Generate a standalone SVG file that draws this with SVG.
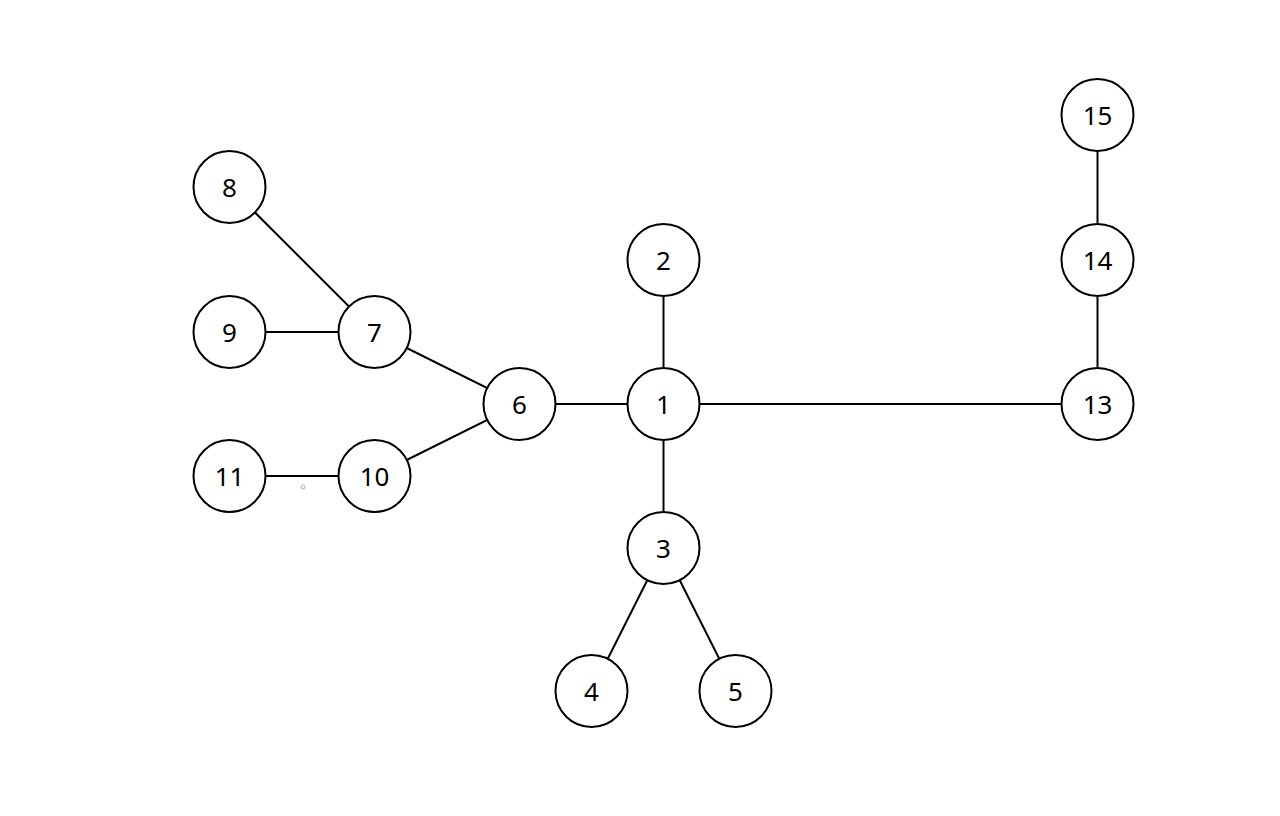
<svg xmlns="http://www.w3.org/2000/svg" width="1280" height="816" viewBox="0 0 1280 816">
<style>
.n circle{fill:#fff;stroke:#000;stroke-width:2}
.n text{font-family:"Noto Sans","Open Sans","Liberation Sans",sans-serif;font-size:26px;fill:#000;text-anchor:middle;dominant-baseline:central}
#edges line{stroke:#000;stroke-width:2}
</style>
<rect width="1280" height="816" fill="#fff"/>
<g id="edges">
<line x1="663.5" y1="404" x2="663.5" y2="260"/>
<line x1="663.5" y1="404" x2="663.5" y2="548"/>
<line x1="663.5" y1="548" x2="591.5" y2="691"/>
<line x1="663.5" y1="548" x2="735.5" y2="691"/>
<line x1="663.5" y1="404" x2="519.5" y2="404"/>
<line x1="663.5" y1="404" x2="1097.5" y2="404"/>
<line x1="519.5" y1="404" x2="374.5" y2="332"/>
<line x1="519.5" y1="404" x2="374.5" y2="476"/>
<line x1="374.5" y1="332" x2="229.5" y2="187"/>
<line x1="374.5" y1="332" x2="229.5" y2="332"/>
<line x1="374.5" y1="476" x2="229.5" y2="476"/>
<line x1="1097.5" y1="404" x2="1097.5" y2="260"/>
<line x1="1097.5" y1="260" x2="1097.5" y2="115"/>
</g>
<circle cx="303" cy="487" r="2" fill="none" stroke="#999" stroke-width="0.8"/>
<g id="node1" class="n"><circle cx="663.5" cy="404" r="36"/><text x="663.5" y="404">1</text></g>
<g id="node2" class="n"><circle cx="663.5" cy="260" r="36"/><text x="663.5" y="260">2</text></g>
<g id="node3" class="n"><circle cx="663.5" cy="548" r="36"/><text x="663.5" y="548">3</text></g>
<g id="node4" class="n"><circle cx="591.5" cy="691" r="36"/><text x="591.5" y="691">4</text></g>
<g id="node5" class="n"><circle cx="735.5" cy="691" r="36"/><text x="735.5" y="691">5</text></g>
<g id="node6" class="n"><circle cx="519.5" cy="404" r="36"/><text x="519.5" y="404">6</text></g>
<g id="node7" class="n"><circle cx="374.5" cy="332" r="36"/><text x="374.5" y="332">7</text></g>
<g id="node8" class="n"><circle cx="229.5" cy="187" r="36"/><text x="229.5" y="187">8</text></g>
<g id="node9" class="n"><circle cx="229.5" cy="332" r="36"/><text x="229.5" y="332">9</text></g>
<g id="node10" class="n"><circle cx="374.5" cy="476" r="36"/><text x="374.5" y="476">10</text></g>
<g id="node11" class="n"><circle cx="229.5" cy="476" r="36"/><text x="229.5" y="476">11</text></g>
<g id="node13" class="n"><circle cx="1097.5" cy="404" r="36"/><text x="1097.5" y="404">13</text></g>
<g id="node14" class="n"><circle cx="1097.5" cy="260" r="36"/><text x="1097.5" y="260">14</text></g>
<g id="node15" class="n"><circle cx="1097.5" cy="115" r="36"/><text x="1097.5" y="115">15</text></g>
</svg>
